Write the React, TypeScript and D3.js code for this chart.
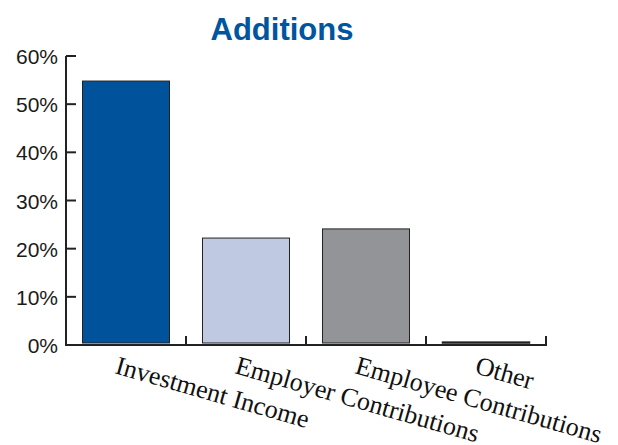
import React from "react";
import * as d3 from "d3";

const categories = ["Investment Income", "Employer Contributions", "Employee Contributions", "Other"];
const values = [54.8, 22.2, 24.1, 0.6];
const colors = ["#00539b", "#bfc9e2", "#929497", "#ffffff"];
const yTicks = [0, 10, 20, 30, 40, 50, 60];

export default function App() {
  const W = 618, H = 445;
  const x0 = 66, x1 = 546, yTop = 56, yBot = 345;
  const x = d3.scaleBand<string>().domain(categories).range([x0, x1]).paddingInner(0.275).paddingOuter(0.1375);
  const y = d3.scaleLinear().domain([0, 60]).range([yBot, yTop]);
  const step = x.step();
  return (
    <svg width={W} height={H} style={{ position: "absolute", left: 0, top: 0 }}>
      <text x={282} y={40} textAnchor="middle" fontFamily="Liberation Sans, Arial, sans-serif" fontWeight="bold" fontSize={31} fill="#00559f">Additions</text>
      {categories.map((c, i) => {
        const v = values[i];
        const bx = x(c)!;
        const by = y(v);
        const h = y(0) - by - 2;
        return (
          <rect key={c} x={bx} y={by} width={x.bandwidth()} height={Math.max(h, 0.5)}
            fill={colors[i]} stroke="#222" strokeWidth={v < 2 ? 1.5 : 1} />
        );
      })}
      <line x1={x0} y1={yTop} x2={x0} y2={yBot} stroke="#222" strokeWidth={2} />
      <line x1={x0 - 1} y1={yBot} x2={x1 + 1} y2={yBot} stroke="#222" strokeWidth={2} />
      {yTicks.map(t => (
        <g key={t}>
          <line x1={x0} x2={x0 + 10} y1={y(t)} y2={y(t)} stroke="#222" strokeWidth={2} />
          <text x={58} y={y(t) + 8} textAnchor="end" fontFamily="Liberation Sans, Arial, sans-serif" fontSize={21} fill="#1a1a1a">{t}%</text>
        </g>
      ))}
      {categories.map((c, i) => {
        const tx = x0 + step * (i + 1);
        return <line key={"t" + c} x1={tx} x2={tx} y1={yBot} y2={yBot - 9} stroke="#222" strokeWidth={2} />;
      })}
      {categories.map((c) => {
        const cx = x(c)! + x.bandwidth() / 2 - 12;
        return (
          <text key={"l" + c} transform={`translate(${cx},${373}) rotate(16)`} fontFamily="Liberation Serif, Times New Roman, serif" fontSize={26} fill="#111">{c}</text>
        );
      })}
    </svg>
  );
}
